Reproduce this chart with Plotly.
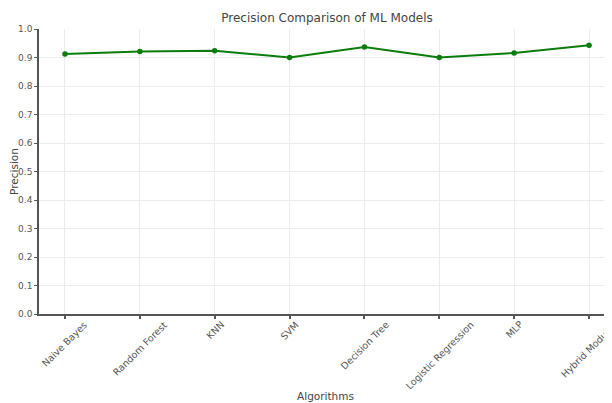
import plotly.graph_objects as go

algorithms = ["Naive Bayes", "Random Forest", "KNN", "SVM", "Decision Tree",
              "Logistic Regression", "MLP", "Hybrid Module-I"]
precision = [0.912, 0.921, 0.924, 0.900, 0.937, 0.900, 0.916, 0.943]
y_ticks = [0.0, 0.1, 0.2, 0.3, 0.4, 0.5, 0.6, 0.7, 0.8, 0.9, 1.0]

FONT = "DejaVu Sans"
xs = list(range(len(algorithms)))

# page body has an 8px margin; size figure so it fills the rest of the window
W, H = 604, 395

fig = go.Figure()
fig.add_trace(go.Scatter(
    x=xs, y=precision, mode="lines+markers",
    line=dict(color="#0c7c0c", width=2),
    marker=dict(color="#0c7c0c", size=5.5),
    showlegend=False,
))

for i, name in enumerate(algorithms):
    fig.add_annotation(
        x=i, xref="x", y=-0.008, yref="paper",
        text=name, showarrow=False, textangle=-45,
        xanchor="center", yanchor="top",
        font=dict(family=FONT, size=9.5, color="#555555"),
    )

fig.update_layout(
    width=W, height=H,
    margin=dict(l=31, r=0, t=21, b=89),
    paper_bgcolor="white", plot_bgcolor="white",
    title=dict(text="Precision Comparison of ML Models", x=(327 - 8) / W,
               xanchor="center", y=1 - 10 / H, yanchor="middle",
               font=dict(family=FONT, size=12, color="#444444")),
    xaxis=dict(
        range=[-0.347, 7.307], tickvals=xs, showticklabels=False,
        showgrid=True, gridcolor="#ebebeb", gridwidth=1,
        showline=True, linecolor="#555555", linewidth=1.5,
        ticks="outside", ticklen=3, tickcolor="#555555", tickwidth=1.5,
        zeroline=False,
        title=dict(text="Algorithms", standoff=75,
                   font=dict(family=FONT, size=10.5, color="#444444")),
        automargin=False,
    ),
    yaxis=dict(
        range=[0, 1], tickvals=y_ticks, tickformat=".1f",
        showgrid=True, gridcolor="#ebebeb", gridwidth=1,
        showline=True, linecolor="#555555", linewidth=1.5,
        ticks="outside", ticklen=3, tickcolor="#555555", tickwidth=1,
        zeroline=False,
        tickfont=dict(family=FONT, size=9, color="#555555"),
        title=dict(text="Precision", standoff=0,
                   font=dict(family=FONT, size=10.5, color="#444444")),
        automargin=False,
    ),
)

fig.write_html("out.html")
